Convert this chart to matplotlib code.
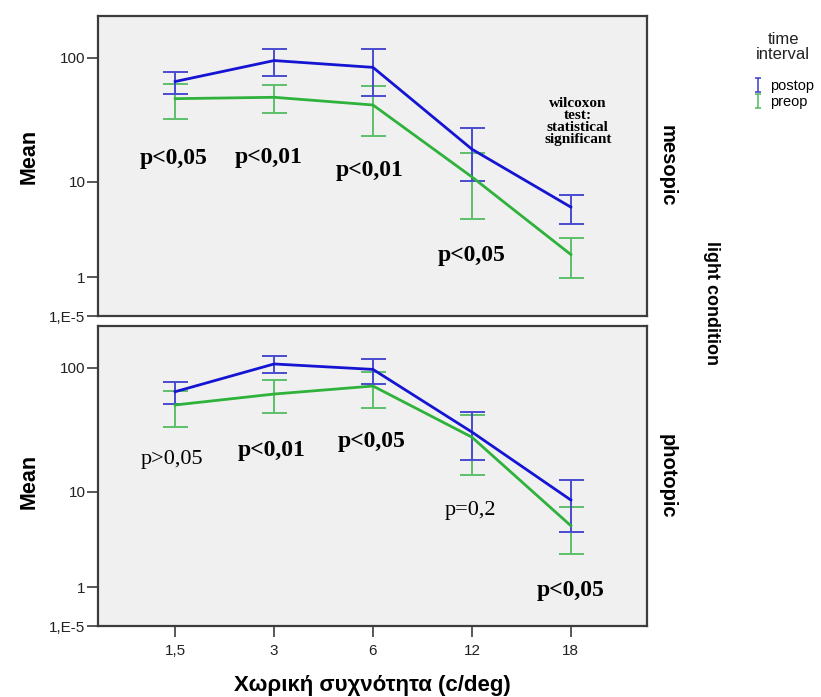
import numpy as np
import matplotlib
matplotlib.use("Agg")
import matplotlib.pyplot as plt
from matplotlib.path import Path
from matplotlib.lines import Line2D

# ---- data -------------------------------------------------------------
freq_labels = ["1,5", "3", "6", "12", "18"]
conditions = ["mesopic", "photopic"]
groups = ["postop", "preop"]

# mesopic: group means and error-bar limits
meso_post_mean = [65.0, 95.0, 84.0, 18.7, 6.0]
meso_post_lo = [51.6, 71.8, 50.3, 10.1, 4.2]
meso_post_hi = [77.6, 116.0, 116.0, 28.0, 7.7]
meso_pre_mean = [47.6, 48.8, 42.4, 11.0, 2.0]
meso_pre_lo = [32.7, 36.5, 24.0, 4.7, 0.97]
meso_pre_hi = [62.1, 61.0, 60.2, 17.4, 3.0]

# photopic
phot_post_mean = [64.8, 107.0, 97.0, 31.0, 8.5]
phot_post_lo = [51.6, 90.3, 74.5, 18.5, 4.4]
phot_post_hi = [77.2, 124.0, 116.8, 44.6, 12.6]
phot_pre_mean = [50.9, 62.1, 71.8, 28.2, 5.0]
phot_pre_lo = [34.3, 43.8, 48.2, 13.9, 2.65]
phot_pre_hi = [65.6, 79.6, 93.0, 42.4, 7.4]

meso_pvalues = ["p<0,05", "p<0,01", "p<0,01", "p<0,05"]
phot_pvalues = ["p>0,05", "p<0,01", "p<0,05", "p=0,2", "p<0,05"]
wilcoxon_note = "wilcoxon\ntest:\nstatistical\nsignificant"

y_ticks = [1e-5, 1, 10, 100]
y_ticklabels = ["1,E-5", "1", "10", "100"]

# ---- styling ------------------------------------------------------------
LINE_COLORS = {"postop": "#1414d2", "preop": "#2fb23c"}
ERR_COLORS = {"postop": "#4a4ad0", "preop": "#5cbf6a"}
PANEL_BG = "#f0f0f0"
FRAME = "#3c3c3c"
SANS = "Liberation Sans"
SERIF = "Liberation Serif"


def safe_log_fwd(v):
    v = np.asarray(v, dtype=float)
    return np.log10(1.0 + np.clip(v, 0, None))


def safe_log_inv(v):
    return 10.0 ** np.asarray(v, dtype=float) - 1.0


fig = plt.figure(figsize=(8.21, 6.97), dpi=100)
fig.patch.set_facecolor("white")

W, H = 821.0, 697.0
left, right = 98 / W, 647 / W
panel_px = [(15.7, 316.0), (325.7, 626.0)]
axes = []
for top_px, bot_px in panel_px:
    ax = fig.add_axes([left, 1 - bot_px / H, right - left, (bot_px - top_px) / H])
    axes.append(ax)

series = {
    "mesopic": {
        "postop": (meso_post_mean, meso_post_lo, meso_post_hi),
        "preop": (meso_pre_mean, meso_pre_lo, meso_pre_hi),
    },
    "photopic": {
        "postop": (phot_post_mean, phot_post_lo, phot_post_hi),
        "preop": (phot_pre_mean, phot_pre_lo, phot_pre_hi),
    },
}
mean_label_y = [0.53, 0.48]

x = np.arange(len(freq_labels))
for ax, cond, my in zip(axes, conditions, mean_label_y):
    ax.set_facecolor(PANEL_BG)
    ax.set_yscale("function", functions=(safe_log_fwd, safe_log_inv))
    for g in ["preop", "postop"]:
        mean, lo, hi = (np.array(a, dtype=float) for a in series[cond][g])
        ax.errorbar(x, mean, yerr=[mean - lo, hi - mean], fmt="none",
                    ecolor=ERR_COLORS[g], elinewidth=1.4, capsize=9,
                    capthick=1.4, zorder=2)
        ax.plot(x, mean, color=LINE_COLORS[g], lw=2.0, zorder=3,
                solid_joinstyle="round")
    ax.set_ylim(1e-5, 213)
    ax.set_xlim(-0.78, 4.77)
    ax.set_yticks(y_ticks)
    ax.set_yticklabels(y_ticklabels)
    ax.yaxis.set_minor_locator(matplotlib.ticker.NullLocator())
    ax.tick_params(axis="y", direction="out", length=8, width=1.2,
                   color=FRAME, labelsize=11, labelcolor="#222222", pad=1)
    for lab in ax.get_yticklabels():
        lab.set_family(SANS)
    for s in ax.spines.values():
        s.set_color(FRAME)
        s.set_linewidth(1.6)
    ax.text(-0.1257, my, "Mean", transform=ax.transAxes, rotation=90,
            ha="center", va="center", fontsize=15.5, fontweight="bold",
            family=SANS)
    ax.text(1.036, 0.5, cond, transform=ax.transAxes, rotation=-90,
            ha="center", va="center", fontsize=14.5, fontweight="bold",
            family=SANS)

axes[0].set_xticks([])
axes[1].set_xticks(x)
axes[1].set_xticklabels(freq_labels, family=SANS)
axes[1].tick_params(axis="x", direction="out", length=8, width=1.2,
                    color=FRAME, labelsize=11, labelcolor="#222222", pad=5)
axes[1].set_xlabel("Χωρική συχνότητα (c/deg)", fontsize=16,
                   fontweight="bold", family=SANS, labelpad=12)

# significance annotations
meso_pos = [(0.137, 0.523), (0.311, 0.529), (0.494, 0.486), (0.681, 0.200)]
for (px, py), txt in zip(meso_pos, meso_pvalues):
    axes[0].text(px, py, txt, transform=axes[0].transAxes, ha="center",
                 va="center", fontsize=17, fontweight="bold", family=SERIF)
axes[0].text(0.874, 0.649, wilcoxon_note, transform=axes[0].transAxes,
             ha="center", va="center", fontsize=11, fontweight="bold",
             family=SERIF, linespacing=0.9)

phot_pos = [(0.135, 0.553), (0.317, 0.583), (0.499, 0.616), (0.679, 0.386),
            (0.860, 0.117)]
phot_weight = ["normal", "bold", "bold", "normal", "bold"]
phot_size = [16, 17, 17, 16, 17]
for (px, py), txt, w, fs in zip(phot_pos, phot_pvalues, phot_weight, phot_size):
    axes[1].text(px, py, txt, transform=axes[1].transAxes, ha="center",
                 va="center", fontsize=fs, fontweight=w, family=SERIF)

# outer facet title
fig.text(711 / W, 1 - 303 / H, "light condition", rotation=-90, ha="center",
         va="center", fontsize=13, fontweight="bold", family=SANS)

# legend
fig.text(783 / W, 1 - 47 / H, "time\ninterval", ha="center", va="center",
         fontsize=12, family=SANS, color="#222222", linespacing=1.0)
i_beam = Path([(-0.5, 1), (0.5, 1), (0, 1), (0, -1), (-0.5, -1), (0.5, -1)],
              [Path.MOVETO, Path.LINETO, Path.MOVETO, Path.LINETO,
               Path.MOVETO, Path.LINETO])
handles = [Line2D([], [], linestyle="none", marker=i_beam, markersize=10,
                  markeredgewidth=1.2, markerfacecolor="none",
                  markeredgecolor=ERR_COLORS[g]) for g in groups]
fig.legend(handles, groups, loc="upper left",
           bbox_to_anchor=(752 / W, 1 - 79 / H), frameon=False,
           prop={"family": SANS, "size": 10.5}, handlelength=0.8,
           handletextpad=0.45, labelspacing=0.15, borderpad=0,
           borderaxespad=0)

fig.savefig("out.png", dpi=100, facecolor="white")
